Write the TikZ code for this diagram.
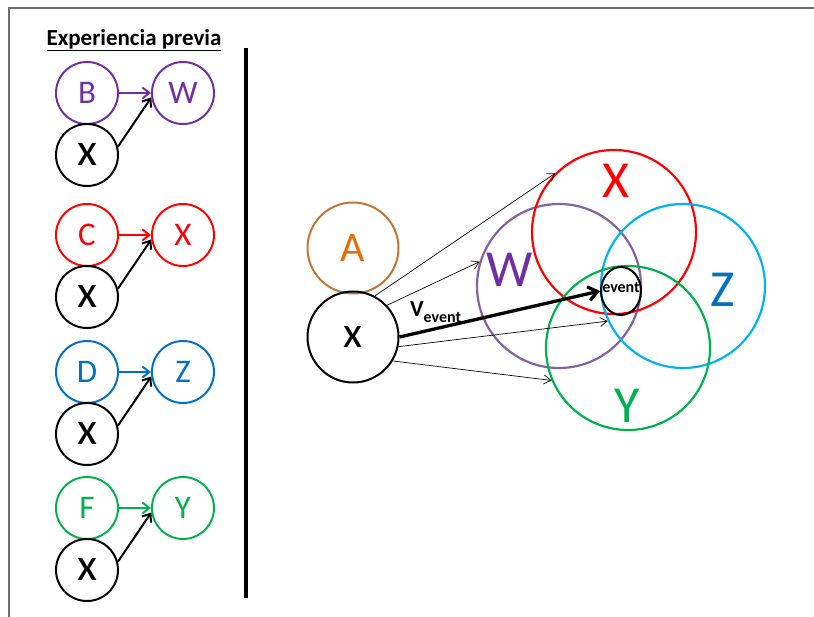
\documentclass[tikz,border=0pt]{standalone}
\usepackage{fontspec}
\setmainfont{Carlito}
\usepackage{tikz}
\usetikzlibrary{arrows.meta}
\usetikzlibrary{shapes.geometric}

\definecolor{prevpurple}{RGB}{112,48,160}
\definecolor{wpurple}{RGB}{128,100,162}
\definecolor{zblue}{RGB}{0,112,192}
\definecolor{zcyan}{RGB}{0,176,240}
\definecolor{ygreen}{RGB}{0,176,80}
\definecolor{abrown}{RGB}{190,118,58}
\definecolor{aorange}{RGB}{228,108,10}
\definecolor{framegray}{RGB}{110,110,110}

\newcommand{\fs}[1]{\fontsize{#1}{#1}\selectfont}

\begin{document}
\begin{tikzpicture}[x=1pt, y=-1pt,
    small/.style={circle, draw, line width=2pt, minimum size=62pt, inner sep=0pt, font={\fs{33}}},
    mid/.style={circle, draw, line width=2pt, minimum size=91pt, inner sep=0pt},
    big/.style={circle, draw, line width=2.2pt, minimum size=164pt, inner sep=0pt},
    biglabel/.style={font={\fs{52}}},
    thin/.style={-{Straight Barb[length=7pt,width=9pt]}, line width=0.7pt},
    link/.style={-{Straight Barb[length=7pt,width=11pt]}, line width=2pt},
  ]
        \useasboundingbox (0,0) rectangle (814,617);

        % Frame
        \draw[framegray, line width=1.5pt] (9,617) -- (9,8) -- (814,8);

        % Experiencia previa
        \node[font={\fs{23}\bfseries}] (title) at (134,40) {\underline{Experiencia previa}};

        \foreach \a/\b/\c/\y/\n in {B/W/prevpurple/93/1, C/X/red/235/2, D/Z/zblue/372/3, F/Y/ygreen/508/4}{
            \node[small, color=\c] (cause\n) at (87,\y) {\a};
            \node[small, color=\c] (effect\n) at (183,\y) {\b};
            \node[small, font={\fs{46}}] (x\n) at (87,\y+62) {x};
            \draw[link, color=\c] (cause\n) -- (effect\n);
            \draw[link] (x\n.15) -- (effect\n.188);
        }

        % Divider
        \draw[line width=3.5pt] (246,48) -- (246,598);

        % Circles
        \node[mid, draw=abrown, text=aorange, font={\fs{42}}] (A) at (353,248) {A};
        \node[mid, font={\fs{44}}] (xr) at (353,337) {x};

        \node[big, draw=wpurple] (Wb) at (559,286) {};
        \node[big, draw=red] (Xb) at (614,232) {};
        \node[big, draw=zcyan] (Zb) at (683,286) {};
        \node[big, draw=ygreen] (Yb) at (628,348) {};
        \node[ellipse, draw, line width=2pt, minimum width=40pt, minimum height=48pt, inner sep=0pt] (event) at (621,291) {};
        \node[font={\fs{16}\bfseries}] (evlabel) at (621,288) {event};

        \node[biglabel, text=red] (Xlab) at (616,181) {X};
        \node[biglabel, text=prevpurple] (Wlab) at (510,270) {W};
        \node[biglabel, text=zblue] (Zlab) at (723,290) {Z};
        \node[biglabel, text=ygreen] (Ylab) at (627,406) {Y};

        % Rays
        \draw[thin] (xr.62) -- (Xb.135);
        \draw[thin] (xr.43) -- (Wb.163);
        \draw[-{Straight Barb[length=9pt,width=14pt]}, line width=3.3pt] (xr.east) -- (event.west)
            node[pos=0.18, above=4pt, inner sep=0pt, font=\bfseries] (vevent) {\fs{23}V\raisebox{-6pt}{\fs{16}event}};
        \draw[thin] (xr.-12) -- (Zb.205);
        \draw[thin] (xr.-31) -- (Yb.203);
\end{tikzpicture}
\end{document}
